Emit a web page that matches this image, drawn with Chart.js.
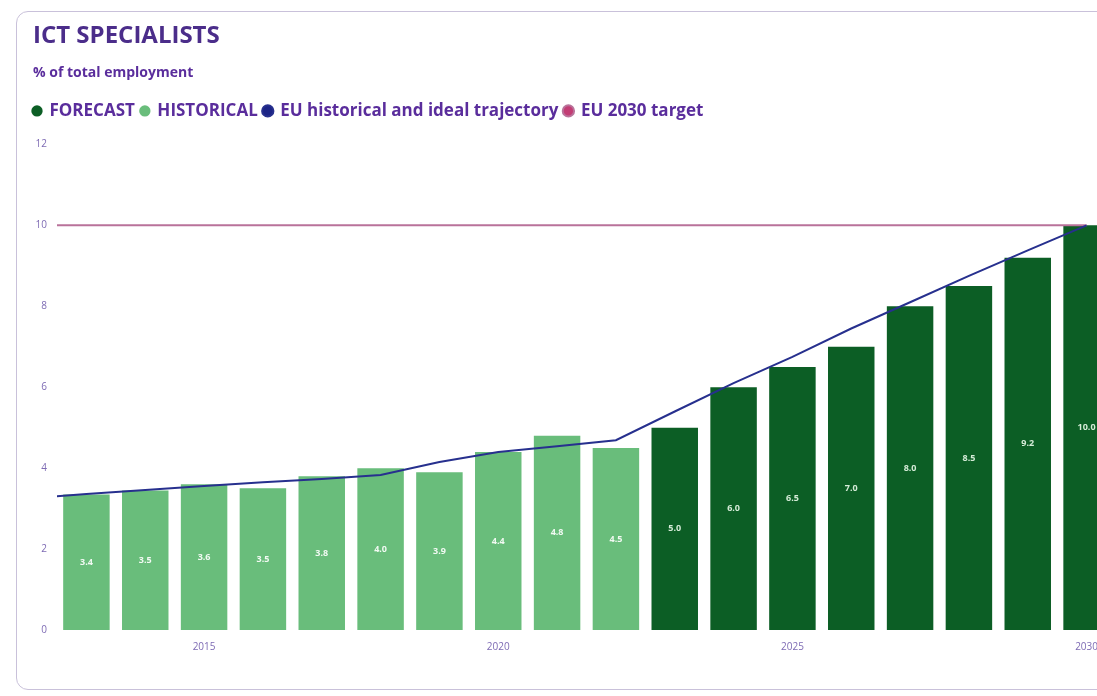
<!DOCTYPE html>
<html><head><meta charset="utf-8">
<script src="https://cdn.jsdelivr.net/npm/chart.js@4"></script>
<style>
html,body{margin:0;padding:0;background:#fff;overflow:hidden;width:1097px;height:696px;}
#card{position:absolute;left:16px;top:11px;width:1200px;height:679px;border:1.5px solid #c9c1da;border-radius:12px;box-sizing:border-box;}
#wrap{position:absolute;left:0;top:0;width:1116px;height:696px;}
</style></head><body>
<div id="card"></div>
<div id="wrap"><canvas id="c"></canvas></div>
<script>
// ---- data ----
const years = [2013,2014,2015,2016,2017,2018,2019,2020,2021,2022,2023,2024,2025,2026,2027,2028,2029,2030];
const historical = [3.35,3.45,3.6,3.5,3.8,4.0,3.9,4.4,4.8,4.5,null,null,null,null,null,null,null,null];
const forecast = [null,null,null,null,null,null,null,null,null,null,5.0,6.0,6.5,7.0,8.0,8.5,9.2,10.0];
const trajectoryYears = [2012,2013,2014,2015,2016,2017,2018,2019,2020,2021,2022,2023,2024,2025,2026,2027,2028,2029,2030];
const trajectory = [3.25,3.36,3.46,3.56,3.65,3.73,3.83,4.15,4.4,4.54,4.69,5.4,6.1,6.75,7.45,8.1,8.75,9.38,10.0];
const targetYears = [2012,2030];
const target = [10,10];
const yTicks = [0,2,4,6,8,10,12];

const FONT = "'Open Sans', 'Noto Sans', sans-serif";
const PURPLE = '#5a2d9c';
const TICK = '#7e6bb4';

const barLabels = {
  id: 'barLabels',
  afterDatasetsDraw(chart) {
    const ctx = chart.ctx;
    ctx.save();
    ctx.font = "bold 9px " + FONT;
    ctx.textAlign = 'center';
    ctx.textBaseline = 'middle';
    chart.data.datasets.forEach((ds, di) => {
      if (ds.type === 'line') return;
      const meta = chart.getDatasetMeta(di);
      meta.data.forEach((el, i) => {
        const v = ds.data[i];
        if (v === null || v === undefined) return;
        ctx.fillStyle = ds.labelColor;
        ctx.fillText(v.toFixed(1), el.x, (el.y + el.base) / 2);
      });
    });
    ctx.restore();
  }
};
const legendTweak = {
  id: 'legendTweak',
  beforeUpdate(chart) {
    const lg = chart.legend;
    if (lg && !lg._tweaked) {
      const fit = lg.fit;
      lg.fit = function () { fit.call(this); this.height += 15; };
      lg._tweaked = true;
    }
  },
  afterLayout(chart) { chart.legend.left -= chart.options.plugins.legend.labels.padding; }
};

new Chart(document.getElementById('c'), {
  type: 'bar',
  data: {
    labels: years.map(String),
    datasets: [
      { label: 'FORECAST', data: forecast, backgroundColor: '#0c5e25', labelColor: '#d6ecd8', grouped: false, order: 2,
        categoryPercentage: 1, barPercentage: 0.79 },
      { label: 'HISTORICAL', data: historical, backgroundColor: '#69bd7b', labelColor: '#f2faf3', grouped: false, order: 2,
        categoryPercentage: 1, barPercentage: 0.79 },
      { type: 'line', label: 'EU historical and ideal trajectory', xAxisID: 'xl',
        data: trajectoryYears.map((y, i) => ({x: y, y: trajectory[i]})),
        borderColor: '#27308e', backgroundColor: '#1c2486', borderWidth: 2, pointRadius: 0, tension: 0, order: 0 },
      { type: 'line', label: 'EU 2030 target', xAxisID: 'xl',
        data: targetYears.map((y, i) => ({x: y, y: target[i]})),
        borderColor: '#b9729a', backgroundColor: '#c23d74', borderWidth: 2, pointRadius: 0, order: 1 }
    ]
  },
  options: {
    responsive: true, maintainAspectRatio: false, animation: false,
    layout: { padding: { left: 33, right: 0, top: 0, bottom: 32 } },
    plugins: {
      title: { display: true, text: 'ICT SPECIALISTS', align: 'start', color: '#4b2d8a',
        font: { family: FONT, size: 24, weight: 'bold' }, padding: { top: 21.6, bottom: 0 } },
      subtitle: { display: true, text: '% of total employment', align: 'start', color: PURPLE,
        font: { family: FONT, size: 14, weight: 'bold' }, padding: { top: 14.2, bottom: 15 } },
      legend: { display: true, align: 'start',
        labels: { usePointStyle: true, pointStyle: 'circle', boxWidth: 8, boxHeight: 8, padding: 6,
          sort: (a, b) => a.datasetIndex - b.datasetIndex,
          color: PURPLE, font: { family: FONT, size: 17, weight: 'bold' } } },
      tooltip: { enabled: false }
    },
    scales: {
      x: { type: 'category', offset: true,
        grid: { display: false, drawTicks: false }, border: { display: false },
        ticks: { autoSkip: false, maxRotation: 0, color: TICK, font: { family: FONT, size: 10 }, padding: 11,
          callback: (v, i) => years[i] % 5 === 0 ? String(years[i]) : '' } },
      xl: { type: 'linear', display: false, offset: false, bounds: 'data', grace: 0,
        grid: { offset: false },
        min: years[0] - 0.5, max: years[years.length - 1] + 0.5 },
      y: { min: yTicks[0], max: yTicks[yTicks.length - 1],
        grid: { display: false, drawTicks: false }, border: { display: false },
        afterBuildTicks: s => { s.ticks = yTicks.map(v => ({ value: v })); },
        afterFit: s => { s.width = 24; },
        ticks: { color: TICK, font: { family: FONT, size: 10 }, padding: 10 } }
    }
  },
  plugins: [barLabels, legendTweak]
});
</script>
</body></html>
